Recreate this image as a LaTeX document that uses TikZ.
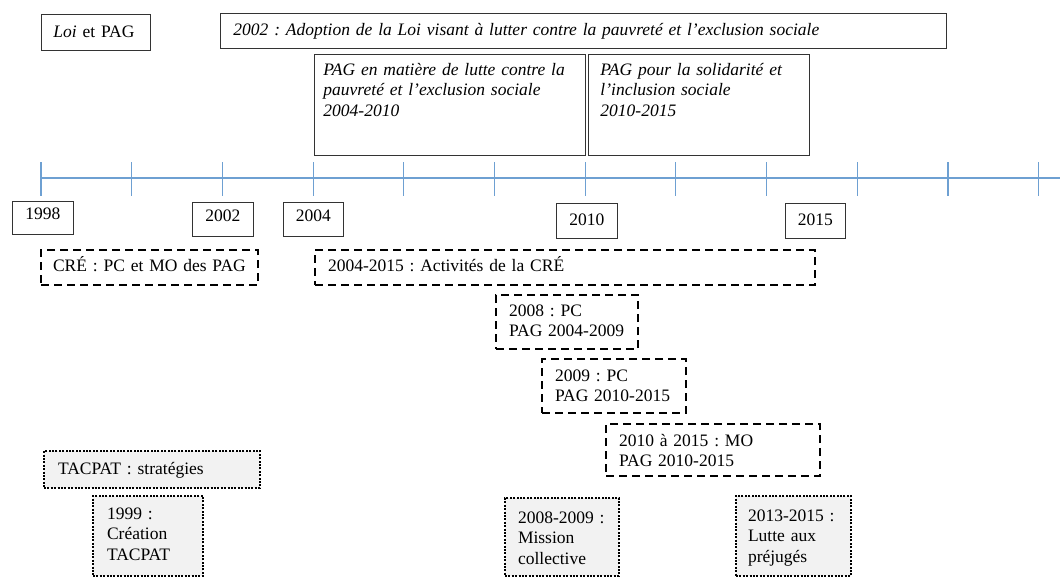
\documentclass[tikz,border=0pt]{standalone}
\usepackage{fontspec}
\setmainfont{Liberation Serif}
\usepackage{tikz}
\usetikzlibrary{calc}
\frenchspacing

\definecolor{axisblue}{RGB}{110,160,210}
\definecolor{boxgray}{RGB}{242,242,242}

\begin{document}
\begin{tikzpicture}[x=1pt,y=-1pt,
  every node/.style={font=\fontsize{17.5}{20.5}\selectfont, anchor=north west, align=left, inner ysep=4pt},
  plain/.style={draw=black!80, line width=0.9pt},
  year/.style={plain, align=center, inner xsep=0pt},
  activ/.style={draw=black, line width=2pt, dash pattern=on 8pt off 5pt},
  tacpat/.style={draw=black, fill=boxgray, line width=2pt, dash pattern=on 2pt off 1.4pt}]
\useasboundingbox (0,0) rectangle (1060,576);
\def\step{90.7}

% axe du temps
\draw[axisblue, line width=1.1pt] (41,178) -- (1060,178);
\foreach \i in {0,...,11}
  \draw[axisblue, line width=1.1pt] (41+\i*\step,162) -- (41+\i*\step,196);

% Loi et PAG
\node[plain, inner xsep=12pt, text width=85pt, text height=19pt, text depth=9pt] (loi) at (41,14) {\textit{Loi} et PAG};
\node[plain, inner xsep=13pt, text width=700pt, text height=18pt, text depth=9pt] (adoption) at (220,13)
  {\textit{2002 : Adoption de la Loi visant à lutter contre la pauvreté et l’exclusion sociale}};
\node[plain, inner xsep=9pt, text width=253pt, text height=17pt, text depth=76pt] (pagA) at (314,54)
  {\textit{PAG en matière de lutte contre la}\\\textit{pauvreté et l’exclusion sociale}\\\textit{2004-2010}};
\node[plain, inner xsep=12pt, text width=197pt, text height=17pt, text depth=76pt] (pagB) at (588,54)
  {\textit{PAG pour la solidarité et}\\\textit{l’inclusion sociale}\\\textit{2010-2015}};

% annees
\node[year, text width=61pt, text height=14pt, text depth=11pt] (y1998) at (12,201) {1998};
\node[year, text width=61pt, text height=15pt, text depth=11pt] (y2002) at (192,202) {2002};
\node[year, text width=60pt, text height=15pt, text depth=11pt] (y2004) at (283,202) {2004};
\node[year, text width=61pt, text height=18pt, text depth=9pt] (y2010) at (556,203) {2010};
\node[year, text width=60pt, text height=18pt, text depth=9pt] (y2015) at (785,203) {2015};

% CRE
\node[activ, inner xsep=12pt, text width=193pt, text height=17pt, text depth=10pt] (cre) at (40,249) {CRÉ : PC et MO des PAG};
\node[activ, inner xsep=13pt, text width=474pt, text height=17pt, text depth=10pt] (creact) at (314,249) {2004-2015 : Activités de la CRÉ};
\node[activ, inner xsep=13pt, text width=116pt, text height=17pt, text depth=29pt] (pc2008) at (495,294) {2008 : PC\\PAG 2004-2009};
\node[activ, inner xsep=13pt, text width=118pt, text height=18pt, text depth=28pt] (pc2009) at (541,358) {2009 : PC\\PAG 2010-2015};
\node[activ, inner xsep=13pt, text width=188pt, text height=18pt, text depth=26pt] (mo2010) at (605,423) {2010 à 2015 : MO\\PAG 2010-2015};

% TACPAT
\node[tacpat, inner xsep=14pt, text width=188pt, text height=19pt, text depth=10pt] (strat) at (43,450) {TACPAT : stratégies};
\node[tacpat, inner xsep=14pt, text width=82pt, text height=19pt, text depth=53pt] (tac1999) at (92,495) {1999 :\\Création\\TACPAT};
\node[tacpat, inner xsep=13pt, text width=88pt, text height=21pt, text depth=49pt] (mission) at (504,497) {2008-2009 :\\Mission\\collective};
\node[tacpat, inner xsep=12pt, text width=91pt, text height=21pt, text depth=51pt] (prejuges) at (735,495) {2013-2015 :\\Lutte aux\\préjugés};
\end{tikzpicture}
\end{document}
